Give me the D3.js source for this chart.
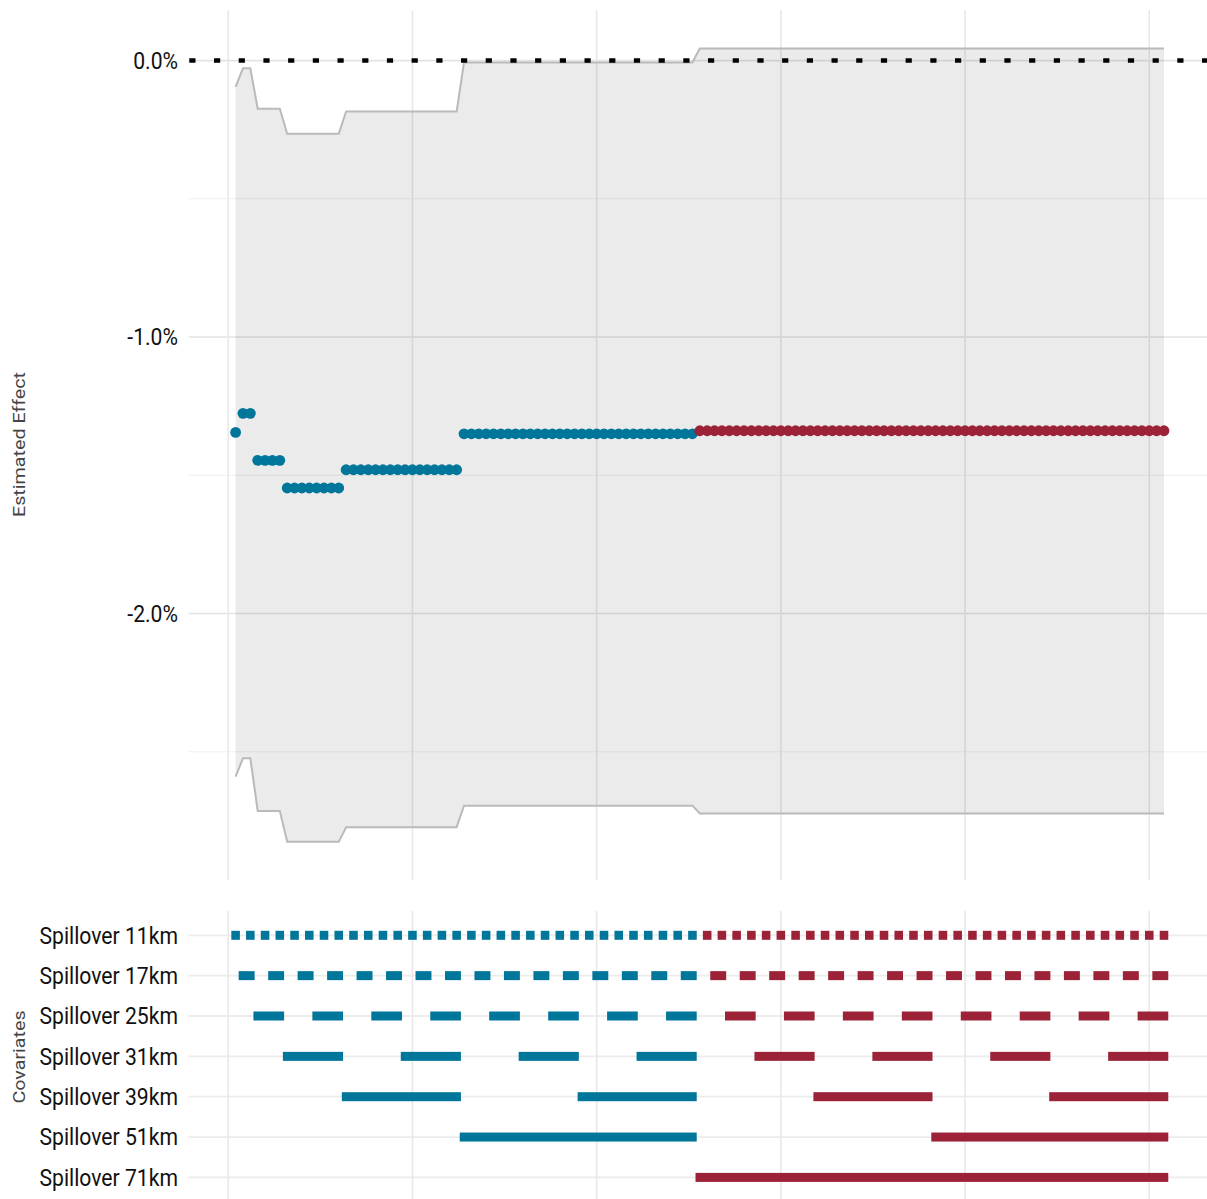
<!DOCTYPE html>
<html>
<head>
<meta charset="utf-8">
<script src="https://cdn.jsdelivr.net/npm/d3@7"></script>
<style>
  html, body { margin: 0; padding: 0; background: #ffffff; }
  svg { display: block; font-family: Roboto, "Noto Sans", sans-serif; }
</style>
</head>
<body>
<svg id="chart" width="1207" height="1199"></svg>
<script>
// Spillover rings that can enter a specification as covariates (bit k of the spec id)
const covariates = ["Spillover 11km", "Spillover 17km", "Spillover 25km", "Spillover 31km",
                    "Spillover 39km", "Spillover 51km", "Spillover 71km"];

// Estimated effect (%) and its interval, by the widest ring a specification includes
const estimateByWidest = [-1.345, -1.276, -1.446, -1.546, -1.480, -1.350, -1.339];
const upperByWidest    = [-0.095, -0.028, -0.174, -0.265, -0.184, -0.0065, 0.044];
const lowerByWidest    = [-2.590, -2.524, -2.714, -2.826, -2.773, -2.695, -2.723];

// Axis ticks
const yMajorTicks = [0, -1, -2];
const yTickLabels = ["0.0%", "-1.0%", "-2.0%"];
const yMinorTicks = [-0.5, -1.5, -2.5];
const xBreaks = [0, 25, 50, 75, 100, 125];

const blue = "#00769a";
const red  = "#9c2237";

// Every non-empty combination of the seven rings, numbered 1..127
const specs = d3.range(1, 128).map(id => {
  const included = covariates.map((c, k) => ((id >> k) & 1) === 1);
  const widest = d3.max(d3.range(7).filter(k => included[k]));
  return {
    id,
    included,
    estimate: estimateByWidest[widest],
    upper: upperByWidest[widest],
    lower: lowerByWidest[widest],
    group: included[6] ? "with71" : "without71"
  };
});
const colorOf = d => d.group === "with71" ? red : blue;

const svg = d3.select("#chart");

const panelLeft = 188.5, panelRight = 1207;
const x = d3.scaleLinear().domain([1, 127]).range([235.6, 1164]);
const step = x(2) - x(1);

// ---------- upper panel: estimates ----------
const estPanel = { top: 10, bottom: 880 };
const y = d3.scaleLinear().domain([0.183, -2.964]).range([estPanel.top, estPanel.bottom]);

const estG = svg.append("g");

// grid
estG.selectAll("line.minor").data(yMinorTicks).join("line")
  .attr("x1", panelLeft).attr("x2", panelRight)
  .attr("y1", d => y(d)).attr("y2", d => y(d))
  .attr("stroke", "#f0f0f0").attr("stroke-width", 1.1);
estG.selectAll("line.major").data(yMajorTicks).join("line")
  .attr("x1", panelLeft).attr("x2", panelRight)
  .attr("y1", d => y(d)).attr("y2", d => y(d))
  .attr("stroke", "#e3e3e3").attr("stroke-width", 1.6);
estG.selectAll("line.vgrid").data(xBreaks).join("line")
  .attr("x1", d => x(d)).attr("x2", d => x(d))
  .attr("y1", estPanel.top).attr("y2", estPanel.bottom)
  .attr("stroke", "#e8e8e8").attr("stroke-width", 1.6);

// confidence ribbon
estG.append("path").datum(specs)
  .attr("d", d3.area().x(d => x(d.id)).y0(d => y(d.lower)).y1(d => y(d.upper)))
  .attr("fill", "#000").attr("fill-opacity", 0.08);
["upper", "lower"].forEach(key => {
  estG.append("path").datum(specs)
    .attr("d", d3.line().x(d => x(d.id)).y(d => y(d[key])))
    .attr("fill", "none").attr("stroke", "#bababa").attr("stroke-width", 2);
});

// zero reference
estG.append("line")
  .attr("x1", 189.3).attr("x2", panelRight)
  .attr("y1", y(0)).attr("y2", y(0))
  .attr("stroke", "#000").attr("stroke-width", 4.5)
  .attr("stroke-dasharray", "6.2 18.5");

// point estimates
estG.selectAll("circle").data(specs).join("circle")
  .attr("cx", d => x(d.id)).attr("cy", d => y(d.estimate))
  .attr("r", 5.4).attr("fill", colorOf);

// y tick labels
estG.selectAll("text.tick").data(yMajorTicks).join("text")
  .attr("transform", d => `translate(178,${y(d)}) scale(0.92,1)`)
  .attr("text-anchor", "end").attr("dy", "0.355em")
  .attr("font-size", 23).attr("fill", "#111")
  .text((d, i) => yTickLabels[i]);

// axis title
function rotatedTitle(label, cx, cy) {
  svg.append("text")
    .attr("transform", `translate(${cx},${cy}) rotate(-90) scale(1,0.8)`)
    .attr("text-anchor", "middle").attr("dy", "0.355em")
    .attr("font-size", 19.7).attr("fill", "#444")
    .text(label);
}
rotatedTitle("Estimated Effect", 19.5, 444.5);

// ---------- lower panel: covariates included ----------
const covPanel = { top: 911, bottom: 1199 };
const row = d3.scalePoint().domain(covariates).range([935.3, 1177.4]);

const covG = svg.append("g");
covG.selectAll("line.hgrid").data(covariates).join("line")
  .attr("x1", panelLeft).attr("x2", panelRight)
  .attr("y1", d => row(d)).attr("y2", d => row(d))
  .attr("stroke", "#ececec").attr("stroke-width", 1.8);
covG.selectAll("line.vgrid").data(xBreaks).join("line")
  .attr("x1", d => x(d)).attr("x2", d => x(d))
  .attr("y1", covPanel.top).attr("y2", covPanel.bottom)
  .attr("stroke", "#e8e8e8").attr("stroke-width", 1.6);

// merge consecutive specs that include a ring into runs of one colour
const runs = [];
covariates.forEach((cov, k) => {
  let current = null;
  specs.forEach(s => {
    if (s.included[k]) {
      if (current && current.group === s.group && current.end === s.id - 1) {
        current.end = s.id;
      } else {
        current = { cov, start: s.id, end: s.id, group: s.group };
        runs.push(current);
      }
    } else {
      current = null;
    }
  });
});

const barH = 9, pad = 0.6;
covG.selectAll("rect").data(runs).join("rect")
  .attr("x", d => x(d.start) - step / 2 - pad)
  .attr("width", d => x(d.end) - x(d.start) + step + 2 * pad)
  .attr("y", d => row(d.cov) - barH / 2)
  .attr("height", barH)
  .attr("fill", colorOf);

covG.selectAll("text.cov").data(covariates).join("text")
  .attr("transform", d => `translate(178,${row(d)}) scale(0.9,1)`)
  .attr("text-anchor", "end").attr("dy", "0.355em")
  .attr("font-size", 23.5).attr("fill", "#111")
  .text(d => d);

rotatedTitle("Covariates", 19.5, 1057);
</script>
</body>
</html>
